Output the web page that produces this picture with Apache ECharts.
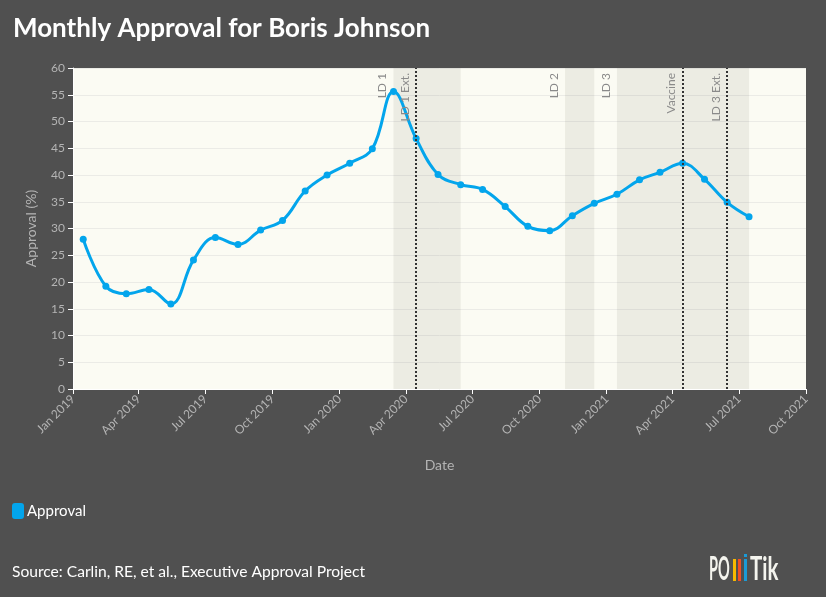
<!DOCTYPE html>
<html>
<head>
<meta charset="utf-8">
<script src="https://cdn.jsdelivr.net/npm/echarts@6/dist/echarts.min.js"></script>
<style>
  html, body { margin: 0; padding: 0; background: #505050; }
  #chart { width: 826px; height: 597px; }
</style>
</head>
<body>
<div id="chart"></div>
<script>
// monthly approval, one point per mid-month
const months = [
  "2019-01-15", "2019-02-15", "2019-03-15", "2019-04-15", "2019-05-15", "2019-06-15",
  "2019-07-15", "2019-08-15", "2019-09-15", "2019-10-15", "2019-11-15", "2019-12-15",
  "2020-01-15", "2020-02-15", "2020-03-15", "2020-04-15", "2020-05-15", "2020-06-15",
  "2020-07-15", "2020-08-15", "2020-09-15", "2020-10-15", "2020-11-15", "2020-12-15",
  "2021-01-15", "2021-02-15", "2021-03-15", "2021-04-15", "2021-05-15", "2021-06-15",
  "2021-07-15"
];
const approval = [
  28.0, 19.2, 17.8, 18.6, 15.9, 24.1,
  28.3, 27.0, 29.7, 31.5, 37.0, 40.0,
  42.2, 44.9, 55.6, 46.8, 40.1, 38.2,
  37.3, 34.1, 30.4, 29.6, 32.4, 34.7,
  36.4, 39.1, 40.5, 42.2, 39.2, 34.9,
  32.2
];

// lockdown periods (shaded)
const bandNames = ["LD 1", "LD 2", "LD 3"];
const bandStarts = ["2020-03-15", "2020-11-05", "2021-01-15"];
const bandEnds = ["2020-06-15", "2020-12-15", "2021-07-15"];

// single events (dotted lines)
const eventNames = ["LD 1 Ext.", "Vaccine", "LD 3 Ext."];
const eventDates = ["2020-04-15", "2021-04-15", "2021-06-15"];

const monthNames = ["Jan", "Feb", "Mar", "Apr", "May", "Jun", "Jul", "Aug", "Sep", "Oct", "Nov", "Dec"];
const font = "Lato";
const grey = "#b4b4b4";

var chart = echarts.init(document.getElementById("chart"));

let markLines = [];
bandNames.forEach((n, i) => {
  // invisible line, only the label is wanted
  markLines.push({ name: n, xAxis: bandStarts[i], lineStyle: { width: 0, color: "rgba(0,0,0,0)" } });
});
eventNames.forEach((n, i) => {
  markLines.push({ name: n, xAxis: eventDates[i] });
});

let markAreas = bandStarts.map((s, i) => [{ xAxis: s }, { xAxis: bandEnds[i] }]);

let option = {
  backgroundColor: "#505050",
  animation: false,
  textStyle: { fontFamily: font },
  title: {
    text: "Monthly Approval for Boris Johnson",
    left: 13,
    top: 16,
    padding: 0,
    textStyle: { color: "#fff", fontSize: 26, fontWeight: "bold", fontFamily: font }
  },
  legend: {
    data: ["Approval"],
    left: 12,
    top: 503,
    padding: 0,
    icon: "roundRect",
    itemWidth: 12,
    itemHeight: 16,
    itemGap: 4,
    textStyle: { color: "#fff", fontSize: 15, fontFamily: font, padding: [0, 0, 0, -2] }
  },
  grid: {
    left: 73,
    right: 20,
    top: 68,
    bottom: 208,
    show: true,
    backgroundColor: "#fbfbf3",
    borderWidth: 0
  },
  xAxis: {
    type: "time",
    min: "2019-01-01",
    max: "2021-10-01",
    splitNumber: 11,
    name: "Date",
    nameLocation: "middle",
    nameGap: 69,
    nameTextStyle: { color: grey, fontSize: 14 },
    axisLine: { show: true, lineStyle: { color: "#fff", width: 1 } },
    axisTick: { show: true, length: 5, lineStyle: { color: "#fff" } },
    splitLine: { show: false },
    axisLabel: {
      color: grey,
      fontSize: 12,
      rotate: 45,
      hideOverlap: false,
      showMinLabel: true,
      showMaxLabel: true,
      formatter: function (v) {
        let d = new Date(v);
        return monthNames[d.getMonth()] + " " + d.getFullYear();
      }
    }
  },
  yAxis: {
    type: "value",
    min: 0,
    max: 60,
    interval: 5,
    name: "Approval (%)",
    nameLocation: "middle",
    nameGap: 35,
    nameTextStyle: { color: grey, fontSize: 14 },
    axisLine: { show: true, lineStyle: { color: "#fff", width: 1 } },
    axisTick: { show: true, length: 5, lineStyle: { color: "#fff" } },
    axisLabel: { color: grey, fontSize: 12, margin: 8 },
    splitLine: { show: true, lineStyle: { color: "#ebebe6", width: 1 } }
  },
  series: [
    {
      name: "Approval",
      type: "line",
      data: months.map((m, i) => [m, approval[i]]),
      smooth: 0.4,
      symbol: "circle",
      symbolSize: 7,
      color: "#03a5ec",
      lineStyle: { width: 3, color: "#03a5ec" },
      itemStyle: { color: "#03a5ec" },
      markArea: {
        silent: true,
        itemStyle: { color: "rgba(60,60,40,0.08)" },
        data: markAreas
      },
      markLine: {
        silent: true,
        symbol: ["none", "none"],
        lineStyle: { type: "dotted", color: "#333", width: 2 },
        label: {
          show: true,
          position: "insideEndTop",
          formatter: "{b}",
          color: "#8a8a8a",
          fontSize: 12,
          fontFamily: font,
          distance: 5
        },
        emphasis: { disabled: true },
        data: markLines
      }
    }
  ],
  graphic: [
    {
      type: "text",
      left: 12,
      top: 564,
      style: { text: "Source: Carlin, RE, et al., Executive Approval Project", fill: "#fff", font: "15.6px Lato" }
    },
    {
      type: "group",
      x: 0,
      y: 0,
      children: [
        { type: "text", x: 709, y: 569, scaleX: 0.44, style: { text: "PO", fill: "#f4f4ee", font: "bold 33px Lato", verticalAlign: "middle" } },
        { type: "rect", shape: { x: 733, y: 559, width: 3, height: 22 }, style: { fill: "#f6b800" } },
        { type: "rect", shape: { x: 738, y: 559, width: 3, height: 22 }, style: { fill: "#f04e23" } },
        { type: "rect", shape: { x: 744, y: 554, width: 3, height: 3 }, style: { fill: "#1b9ad6" } },
        { type: "rect", shape: { x: 744, y: 559, width: 3, height: 22 }, style: { fill: "#1b9ad6" } },
        { type: "text", x: 750, y: 569, scaleX: 0.62, style: { text: "Tik", fill: "#f4f4ee", font: "bold 33px Lato", verticalAlign: "middle" } }
      ]
    }
  ]
};
chart.setOption(option);
</script>
</body>
</html>
